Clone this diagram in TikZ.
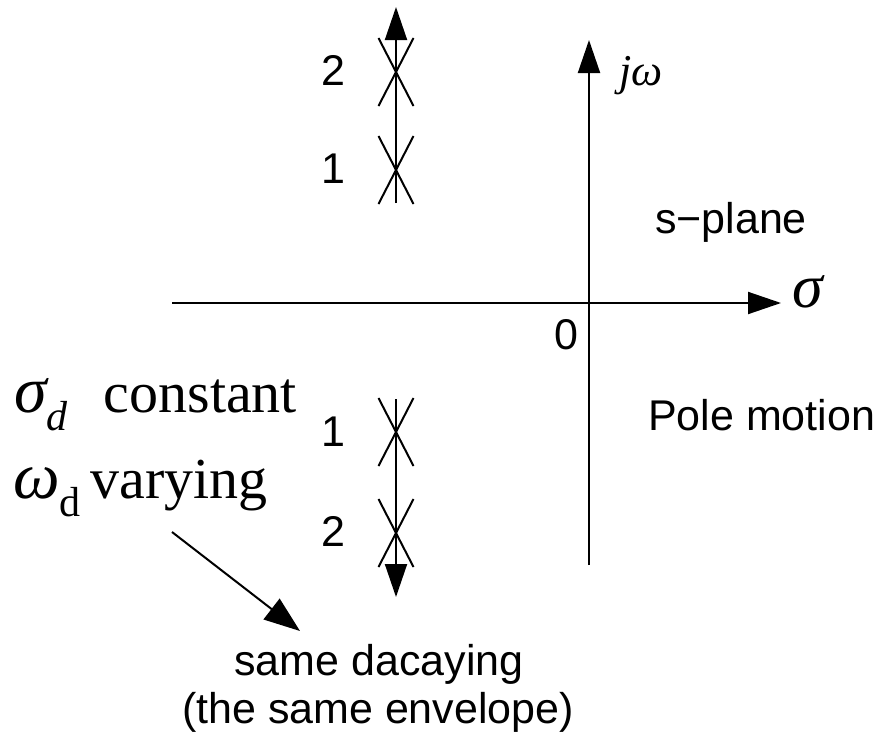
\documentclass[tikz,border=0pt]{standalone}
\usepackage{fontspec}
\setmainfont{Liberation Serif}
\setsansfont{Liberation Sans}
\usepackage{tikz}
\usetikzlibrary{arrows.meta,shapes.misc}
\newcommand{\sanslbl}{\sffamily\fontsize{43}{48}\selectfont}
\newcommand{\serflbl}{\rmfamily\fontsize{58}{62}\selectfont}
\newcommand{\grk}[1]{{\fontsize{66}{66}\selectfont\itshape #1}}
\newcommand{\subd}[1]{\raisebox{-18pt}{\fontsize{42}{42}\selectfont #1}}
\tikzset{
  axis/.style={line width=2pt,-{Triangle[length=33pt,width=22pt]}},
  pole/.style={draw,cross out,line width=2pt,minimum width=33pt,minimum height=66pt,inner sep=0pt},
  polenum/.style={font=\sanslbl,inner sep=0pt},
  txt/.style={inner sep=0pt}
}

\begin{document}
\begin{tikzpicture}[x=1pt,y=-1pt]
\useasboundingbox (0,0) rectangle (887,739);
% ---- s-plane axes ----
\coordinate (xl) at (172,303);
\coordinate (xr) at (781,303);
\coordinate (yb) at (589,565);
\coordinate (yt) at (589,40);
\draw[axis] (xl) -- (xr);
\draw[axis] (yb) -- (yt);
\node[txt,font=\rmfamily\fontsize{62}{62}\selectfont\itshape] (sig) at (808,292) {σ};
\node[txt,font=\rmfamily\fontsize{44}{46}\selectfont\itshape] (jw) at (641,76) {jω};
\node[txt,font=\sanslbl] (zero) at (566,335) {0};
\node[txt,font=\sanslbl,anchor=base] (splane) at (731,233) {s−plane};
\node[txt,font=\sanslbl,anchor=base west] (pmot) at (648,430) {Pole motion};
% ---- poles, upper half ----
\node[pole] (up2) at (396,72) {};
\node[pole] (up1) at (396,170) {};
\coordinate (ub) at (396,203);
\coordinate (ut) at (396,7);
\draw[axis] (ub) -- (ut);
\node[polenum] (nu2) at (333,70) {2};
\node[polenum] (nu1) at (333,169) {1};
% ---- poles, lower half ----
\node[pole] (lo1) at (396,432) {};
\node[pole] (lo2) at (396,533) {};
\coordinate (lb) at (396,399);
\coordinate (lt) at (396,597);
\draw[axis] (lb) -- (lt);
\node[polenum] (nl1) at (333,432) {1};
\node[polenum] (nl2) at (333,531) {2};
% ---- notes ----
\node[txt,font=\serflbl,anchor=base west] (sigd) at (14,412) {\grk{σ}\subd{\itshape d}\hspace{36pt}constant};
\node[txt,font=\serflbl,anchor=base west] (omd) at (13,498) {\grk{ω}\subd{d}\hspace{10pt}varying};
\coordinate (ds) at (172,532);
\coordinate (de) at (300,631);
\draw[line width=2pt,-{Triangle[length=36pt,width=26pt]}] (ds) -- (de);
\node[txt,font=\sanslbl,anchor=base] (same) at (379,675) {same dacaying};
\node[txt,font=\sanslbl,anchor=base] (env) at (378,723) {(the same envelope)};
\end{tikzpicture}
\end{document}
